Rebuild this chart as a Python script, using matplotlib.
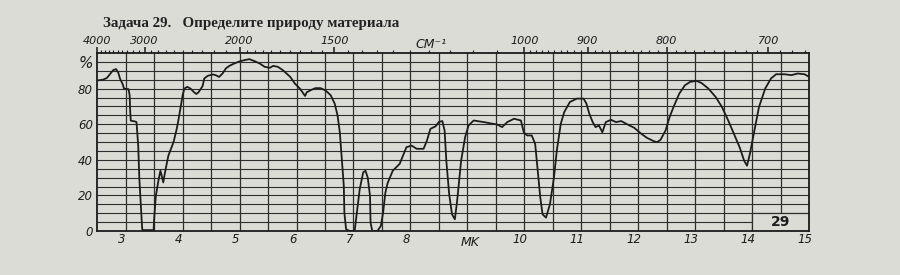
import matplotlib
matplotlib.use("Agg")
import matplotlib.pyplot as plt
import matplotlib.transforms as mtransforms
from matplotlib.patches import Rectangle
import numpy as np

# ---- data ----
wavelength_um = [
    2.52, 2.60, 2.67, 2.72, 2.78, 2.83, 2.87, 2.90, 2.95, 2.97, 3.05, 3.07, 3.08, 3.09,
    3.16, 3.19, 3.22, 3.24, 3.29, 3.31, 3.49, 3.50, 3.53, 3.58, 3.61, 3.64, 3.66, 3.69,
    3.75, 3.84, 3.89, 3.92, 3.96, 4.00, 4.03, 4.08, 4.14, 4.20, 4.24, 4.28, 4.35, 4.38,
    4.44, 4.53, 4.58, 4.64, 4.70, 4.76, 4.82, 4.91, 5.00, 5.08, 5.17, 5.26, 5.35, 5.44,
    5.53, 5.59, 5.67, 5.76, 5.89, 5.97, 6.06, 6.12, 6.15, 6.18, 6.24, 6.33, 6.42, 6.51,
    6.60, 6.67, 6.72, 6.76, 6.79, 6.83, 6.84, 6.87, 6.93, 7.02, 7.06, 7.11, 7.17, 7.21,
    7.25, 7.29, 7.30, 7.33, 7.42, 7.48, 7.52, 7.56, 7.60, 7.69, 7.81, 7.93, 8.02, 8.11,
    8.23, 8.29, 8.35, 8.44, 8.50, 8.56, 8.60, 8.63, 8.68, 8.73, 8.78, 8.82, 8.89, 8.96,
    9.02, 9.11, 9.29, 9.44, 9.52, 9.61, 9.70, 9.82, 9.94, 9.99, 10.05, 10.13, 10.19,
    10.23, 10.28, 10.32, 10.38, 10.45, 10.52, 10.57, 10.64, 10.70, 10.80, 10.92, 11.04,
    11.09, 11.14, 11.20, 11.25, 11.31, 11.37, 11.43, 11.52, 11.61, 11.70, 11.81, 11.93,
    12.04, 12.15, 12.27, 12.33, 12.39, 12.48, 12.55, 12.62, 12.72, 12.82, 12.91, 13.02,
    13.11, 13.23, 13.36, 13.47, 13.58, 13.68, 13.78, 13.86, 13.91, 13.96, 14.04, 14.12,
    14.23, 14.33, 14.42, 14.57, 14.69, 14.80, 14.92, 14.98,
]
transmittance = [
    84.7, 85.0, 86.0, 88.0, 90.4, 91.0, 89.0, 85.7, 82.3, 80.0, 79.7, 76.3, 66.8, 62.0,
    61.6, 61.2, 48.0, 29.4, 1.0, 0.5, 0.5, 6.8, 19.8, 29.2, 33.9, 30.1, 27.3, 32.9,
    42.4, 49.9, 56.5, 61.2, 68.7, 76.3, 80.0, 81.0, 80.0, 78.0, 77.0, 78.0, 81.4, 85.7,
    87.2, 88.0, 87.6, 86.6, 88.5, 91.4, 92.8, 94.2, 95.3, 96.0, 96.6, 95.5, 94.2, 92.3,
    91.7, 92.8, 92.3, 90.4, 86.6, 82.9, 80.0, 77.2, 75.9, 78.0, 79.0, 80.3, 80.3, 79.0,
    76.3, 71.6, 65.0, 55.5, 42.4, 25.4, 10.3, 1.0, 0.0, 0.0, 10.3, 23.6, 32.9, 33.9,
    30.1, 19.8, 4.7, 0.0, 0.0, 2.8, 10.3, 21.6, 27.0, 33.9, 37.7, 47.1, 48.0, 46.2,
    46.2, 50.8, 57.4, 58.8, 61.3, 61.8, 56.5, 39.5, 20.7, 9.4, 6.6, 16.9, 39.5, 52.7,
    59.3, 62.1, 61.2, 60.3, 59.9, 58.4, 61.2, 63.1, 62.1, 55.5, 53.7, 53.7, 49.0,
    35.8, 18.8, 9.4, 7.5, 15.1, 30.1, 45.2, 60.3, 66.8, 72.5, 74.4, 74.4,
    71.6, 66.0, 61.2, 58.4, 59.3, 55.5, 61.2, 62.5, 61.2, 61.8, 59.9, 58.0,
    55.0, 52.4, 50.5, 49.9, 51.2, 56.5, 64.0, 69.7, 77.2, 81.9, 83.8, 84.4,
    83.2, 80.1, 75.3, 69.7, 62.1, 54.6, 47.1, 39.5, 36.7, 43.3, 56.5, 69.7,
    80.1, 85.7, 88.1, 88.1, 87.6, 88.5, 88.1, 87.0,
]

bottom_ticks = [3, 4, 5, 6, 7, 8, 10, 11, 12, 13, 14, 15]
bottom_labels = ["3", "4", "5", "6", "7", "8", "10", "11", "12", "13", "14", "15"]
wavenumber_major = [4000, 3000, 2000, 1500, 1000, 900, 800, 700]
wavenumber_labels = ["4000", "3000", "2000", "1500", "1000", "900", "800", "700"]
y_ticks = [0, 20, 40, 60, 80, 95]
y_labels = ["0", "20", "40", "60", "80", "%"]
title = "Задача 29.   Определите природу материала"
unit_top = "CM\u207b\u00b9"
unit_bottom = "MK"
sheet_number = "29"

# ---- style ----
paper = "#dcdcd6"
ink = "#1c1c1c"
gridc = "#2e2e2e"

fig = plt.figure(figsize=(9, 2.75), dpi=100, facecolor=paper)
ax = fig.add_axes([0.108, 0.16, 0.791, 0.647])
ax.set_facecolor(paper)
ax.set_xlim(2.5, 15)
ax.set_ylim(0, 100)

for xv in np.arange(3.0, 15.0, 0.5):
    ax.axvline(xv, color=gridc, lw=0.9, zorder=1)
for yv in np.arange(5, 100, 5):
    ax.axhline(yv, color=gridc, lw=0.8, zorder=1)

ax.plot(wavelength_um, transmittance, color=ink, lw=1.3, zorder=4,
        solid_joinstyle="round")

# number box in the lower-right cell
ax.add_patch(Rectangle((14, 0), 1, 10, facecolor=paper, edgecolor=gridc,
                       lw=0.9, zorder=2))
ax.text(14.5, 5, sheet_number, ha="center", va="center", fontsize=10,
        fontweight="bold", color=ink, zorder=5)

for s in ax.spines.values():
    s.set_color(ink)
    s.set_linewidth(1.3)

# bottom axis (micrometres)
ax.set_xticks(bottom_ticks)
ax.set_xticklabels(bottom_labels, fontsize=8.5, style="italic", color=ink)
ax.tick_params(axis="x", length=0, pad=1.5)
off = mtransforms.ScaledTranslation(-4 / 100, 0, fig.dpi_scale_trans)
for lab in ax.get_xticklabels():
    lab.set_transform(lab.get_transform() + off)
ax.text(9.05, -0.03, unit_bottom, transform=ax.get_xaxis_transform(),
        ha="center", va="top", fontsize=9, style="italic", color=ink)

# left axis (%)
ax.set_yticks(y_ticks)
ax.set_yticklabels(y_labels, fontsize=8.5, style="italic", color=ink)
ax.tick_params(axis="y", length=0, pad=3)
ax.get_yticklabels()[-1].set_fontsize(11)

# top axis (wavenumbers)
ax2 = ax.twiny()
ax2.set_xlim(ax.get_xlim())
ax2.set_xticks([1e4 / w for w in wavenumber_major])
ax2.set_xticklabels(wavenumber_labels, fontsize=8, style="italic", color=ink)
minor_wn = np.concatenate([np.arange(4000, 2000, -100), np.arange(2000, 1000, -50),
                           np.arange(1000, 660, -10)])
ax2.set_xticks([1e4 / w for w in minor_wn], minor=True)
ax2.tick_params(axis="x", which="major", direction="out", length=4.5, width=1.1,
                pad=0.5, colors=ink)
ax2.tick_params(axis="x", which="minor", direction="out", length=2.5, width=0.8,
                colors=ink)
for s in ax2.spines.values():
    s.set_visible(False)
ax.text(8.37, 1.01, unit_top, transform=ax.get_xaxis_transform(),
        ha="center", va="bottom", fontsize=9, style="italic", color=ink)

fig.text(0.114, 0.915, title, ha="left", va="center", fontsize=10.8,
         fontfamily="Liberation Serif", fontweight="bold", color="#222222")

fig.savefig("out.png", dpi=100, facecolor=paper)
